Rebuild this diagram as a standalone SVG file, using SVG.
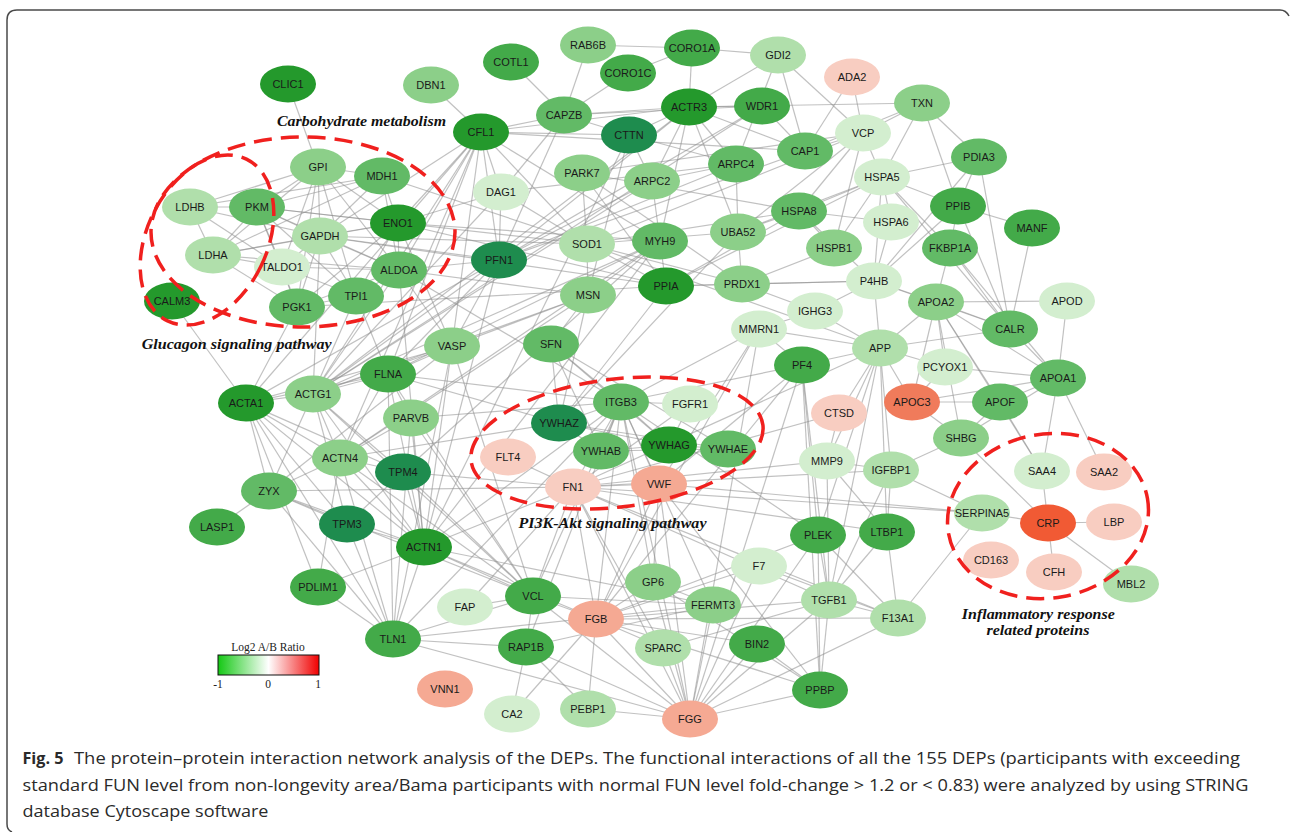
<svg xmlns="http://www.w3.org/2000/svg" width="1290" height="832" viewBox="0 0 1290 832">
<defs>
<linearGradient id="lg" x1="0" y1="0" x2="1" y2="0">
<stop offset="0" stop-color="#14c814"/><stop offset="0.5" stop-color="#ffffff"/><stop offset="1" stop-color="#f00000"/>
</linearGradient>
<style>
.e{stroke:#8e8e8e;stroke-opacity:0.55;stroke-width:1.2;fill:none}
.n ellipse{stroke:none}
.n text{font-family:"Liberation Sans",Arial,sans-serif;font-size:11px;fill:#1a1a1a;text-anchor:middle}
.g1{fill:#24992c}.gt{fill:#1e8c4e}.g2{fill:#43aa49}.g3{fill:#62ba66}.g4{fill:#8ccf89}.g5{fill:#b0dfab}.g6{fill:#d3eecf}
.p1{fill:#f8cdc1}.p2{fill:#f5a993}.p3{fill:#f07b5b}.p4{fill:#f15a34}
.dash{fill:none;stroke:#f0201e;stroke-width:3.5;stroke-dasharray:18 9}
.lab{font-family:"Liberation Serif","Times New Roman",serif;font-weight:bold;font-style:italic;font-size:15.5px;fill:#111;text-anchor:middle}
.cap{font-family:"Open Sans","Noto Sans",sans-serif;font-size:16px;fill:#2a2a2a}
.lg{font-family:"Liberation Serif","Times New Roman",serif;font-size:11.5px;text-anchor:middle;fill:#222}
</style>
</defs>
<rect width="1290" height="832" fill="#ffffff"/>
<path d="M1289,16 Q1286,10 1280,10 L17,10 Q7,10 7,20 L7,824 Q7,830 12,832" fill="none" stroke="#4a4a4a" stroke-width="1.5"/>
<g id="connectors">
<line class="e" x1="288" y1="84" x2="318" y2="167"/>
<line class="e" x1="431" y1="85" x2="481" y2="132"/>
<line class="e" x1="511" y1="62" x2="564" y2="115"/>
<line class="e" x1="588" y1="45" x2="564" y2="115"/>
<line class="e" x1="588" y1="45" x2="692" y2="48"/>
<line class="e" x1="692" y1="48" x2="628" y2="73"/>
<line class="e" x1="692" y1="48" x2="778" y2="55"/>
<line class="e" x1="692" y1="48" x2="689" y2="107"/>
<line class="e" x1="628" y1="73" x2="564" y2="115"/>
<line class="e" x1="778" y1="55" x2="689" y2="107"/>
<line class="e" x1="778" y1="55" x2="805" y2="151"/>
<line class="e" x1="778" y1="55" x2="863" y2="133"/>
<line class="e" x1="778" y1="55" x2="736" y2="164"/>
<line class="e" x1="852" y1="77" x2="863" y2="133"/>
<line class="e" x1="852" y1="77" x2="805" y2="151"/>
<line class="e" x1="922" y1="103" x2="863" y2="133"/>
<line class="e" x1="922" y1="103" x2="882" y2="177"/>
<line class="e" x1="922" y1="103" x2="979" y2="157"/>
<line class="e" x1="922" y1="103" x2="958" y2="206"/>
<line class="e" x1="922" y1="103" x2="689" y2="107"/>
<line class="e" x1="922" y1="103" x2="805" y2="151"/>
<line class="e" x1="564" y1="115" x2="689" y2="107"/>
<line class="e" x1="564" y1="115" x2="481" y2="132"/>
<line class="e" x1="564" y1="115" x2="629" y2="135"/>
<line class="e" x1="564" y1="115" x2="762" y2="106"/>
<line class="e" x1="564" y1="115" x2="499" y2="260"/>
<line class="e" x1="564" y1="115" x2="501" y2="192"/>
<line class="e" x1="481" y1="132" x2="629" y2="135"/>
<line class="e" x1="481" y1="132" x2="689" y2="107"/>
<line class="e" x1="481" y1="132" x2="501" y2="192"/>
<line class="e" x1="481" y1="132" x2="499" y2="260"/>
<line class="e" x1="481" y1="132" x2="320" y2="236"/>
<line class="e" x1="481" y1="132" x2="398" y2="223"/>
<line class="e" x1="481" y1="132" x2="399" y2="270"/>
<line class="e" x1="481" y1="132" x2="587" y2="244"/>
<line class="e" x1="481" y1="132" x2="660" y2="241"/>
<line class="e" x1="481" y1="132" x2="313" y2="394"/>
<line class="e" x1="481" y1="132" x2="388" y2="374"/>
<line class="e" x1="481" y1="132" x2="452" y2="346"/>
<line class="e" x1="481" y1="132" x2="340" y2="458"/>
<line class="e" x1="481" y1="132" x2="246" y2="403"/>
<line class="e" x1="481" y1="132" x2="805" y2="151"/>
<line class="e" x1="689" y1="107" x2="762" y2="106"/>
<line class="e" x1="689" y1="107" x2="736" y2="164"/>
<line class="e" x1="689" y1="107" x2="652" y2="181"/>
<line class="e" x1="689" y1="107" x2="629" y2="135"/>
<line class="e" x1="689" y1="107" x2="499" y2="260"/>
<line class="e" x1="689" y1="107" x2="660" y2="241"/>
<line class="e" x1="689" y1="107" x2="805" y2="151"/>
<line class="e" x1="689" y1="107" x2="313" y2="394"/>
<line class="e" x1="689" y1="107" x2="738" y2="232"/>
<line class="e" x1="629" y1="135" x2="652" y2="181"/>
<line class="e" x1="629" y1="135" x2="736" y2="164"/>
<line class="e" x1="629" y1="135" x2="588" y2="295"/>
<line class="e" x1="629" y1="135" x2="424" y2="547"/>
<line class="e" x1="762" y1="106" x2="805" y2="151"/>
<line class="e" x1="762" y1="106" x2="313" y2="394"/>
<line class="e" x1="762" y1="106" x2="499" y2="260"/>
<line class="e" x1="805" y1="151" x2="863" y2="133"/>
<line class="e" x1="805" y1="151" x2="499" y2="260"/>
<line class="e" x1="863" y1="133" x2="882" y2="177"/>
<line class="e" x1="863" y1="133" x2="799" y2="211"/>
<line class="e" x1="863" y1="133" x2="738" y2="232"/>
<line class="e" x1="863" y1="133" x2="587" y2="244"/>
<line class="e" x1="863" y1="133" x2="582" y2="173"/>
<line class="e" x1="863" y1="133" x2="834" y2="248"/>
<line class="e" x1="882" y1="177" x2="979" y2="157"/>
<line class="e" x1="882" y1="177" x2="958" y2="206"/>
<line class="e" x1="882" y1="177" x2="891" y2="222"/>
<line class="e" x1="882" y1="177" x2="874" y2="281"/>
<line class="e" x1="882" y1="177" x2="799" y2="211"/>
<line class="e" x1="882" y1="177" x2="950" y2="248"/>
<line class="e" x1="882" y1="177" x2="1010" y2="329"/>
<line class="e" x1="882" y1="177" x2="834" y2="248"/>
<line class="e" x1="882" y1="177" x2="738" y2="232"/>
<line class="e" x1="882" y1="177" x2="666" y2="286"/>
<line class="e" x1="979" y1="157" x2="958" y2="206"/>
<line class="e" x1="979" y1="157" x2="1010" y2="329"/>
<line class="e" x1="979" y1="157" x2="874" y2="281"/>
<line class="e" x1="958" y1="206" x2="1032" y2="228"/>
<line class="e" x1="958" y1="206" x2="950" y2="248"/>
<line class="e" x1="958" y1="206" x2="874" y2="281"/>
<line class="e" x1="958" y1="206" x2="1010" y2="329"/>
<line class="e" x1="1032" y1="228" x2="1010" y2="329"/>
<line class="e" x1="950" y1="248" x2="936" y2="302"/>
<line class="e" x1="950" y1="248" x2="1010" y2="329"/>
<line class="e" x1="950" y1="248" x2="1058" y2="378"/>
<line class="e" x1="891" y1="222" x2="874" y2="281"/>
<line class="e" x1="891" y1="222" x2="799" y2="211"/>
<line class="e" x1="874" y1="281" x2="936" y2="302"/>
<line class="e" x1="874" y1="281" x2="880" y2="348"/>
<line class="e" x1="874" y1="281" x2="815" y2="311"/>
<line class="e" x1="874" y1="281" x2="1010" y2="329"/>
<line class="e" x1="874" y1="281" x2="742" y2="284"/>
<line class="e" x1="936" y1="302" x2="1067" y2="301"/>
<line class="e" x1="936" y1="302" x2="1010" y2="329"/>
<line class="e" x1="936" y1="302" x2="880" y2="348"/>
<line class="e" x1="936" y1="302" x2="945" y2="367"/>
<line class="e" x1="936" y1="302" x2="1058" y2="378"/>
<line class="e" x1="936" y1="302" x2="912" y2="402"/>
<line class="e" x1="936" y1="302" x2="1000" y2="402"/>
<line class="e" x1="936" y1="302" x2="961" y2="438"/>
<line class="e" x1="936" y1="302" x2="1042" y2="471"/>
<line class="e" x1="1067" y1="301" x2="1058" y2="378"/>
<line class="e" x1="1010" y1="329" x2="1058" y2="378"/>
<line class="e" x1="1010" y1="329" x2="880" y2="348"/>
<line class="e" x1="1058" y1="378" x2="912" y2="402"/>
<line class="e" x1="1058" y1="378" x2="1000" y2="402"/>
<line class="e" x1="1058" y1="378" x2="1042" y2="471"/>
<line class="e" x1="1058" y1="378" x2="1104" y2="472"/>
<line class="e" x1="1058" y1="378" x2="945" y2="367"/>
<line class="e" x1="1058" y1="378" x2="961" y2="438"/>
<line class="e" x1="880" y1="348" x2="945" y2="367"/>
<line class="e" x1="880" y1="348" x2="815" y2="311"/>
<line class="e" x1="880" y1="348" x2="759" y2="329"/>
<line class="e" x1="880" y1="348" x2="802" y2="365"/>
<line class="e" x1="880" y1="348" x2="839" y2="413"/>
<line class="e" x1="880" y1="348" x2="827" y2="461"/>
<line class="e" x1="880" y1="348" x2="891" y2="470"/>
<line class="e" x1="880" y1="348" x2="887" y2="532"/>
<line class="e" x1="880" y1="348" x2="818" y2="535"/>
<line class="e" x1="880" y1="348" x2="912" y2="402"/>
<line class="e" x1="880" y1="348" x2="829" y2="600"/>
<line class="e" x1="880" y1="348" x2="573" y2="487"/>
<line class="e" x1="912" y1="402" x2="1000" y2="402"/>
<line class="e" x1="912" y1="402" x2="961" y2="438"/>
<line class="e" x1="912" y1="402" x2="945" y2="367"/>
<line class="e" x1="1000" y1="402" x2="961" y2="438"/>
<line class="e" x1="1000" y1="402" x2="1042" y2="471"/>
<line class="e" x1="961" y1="438" x2="891" y2="470"/>
<line class="e" x1="961" y1="438" x2="1048" y2="523"/>
<line class="e" x1="1042" y1="471" x2="1048" y2="523"/>
<line class="e" x1="1048" y1="523" x2="982" y2="513"/>
<line class="e" x1="1048" y1="523" x2="1114" y2="522"/>
<line class="e" x1="1048" y1="523" x2="1054" y2="572"/>
<line class="e" x1="1048" y1="523" x2="1131" y2="584"/>
<line class="e" x1="982" y1="513" x2="891" y2="470"/>
<line class="e" x1="982" y1="513" x2="898" y2="618"/>
<line class="e" x1="982" y1="513" x2="573" y2="487"/>
<line class="e" x1="982" y1="513" x2="659" y2="484"/>
<line class="e" x1="887" y1="532" x2="829" y2="600"/>
<line class="e" x1="887" y1="532" x2="891" y2="470"/>
<line class="e" x1="887" y1="532" x2="898" y2="618"/>
<line class="e" x1="887" y1="532" x2="573" y2="487"/>
<line class="e" x1="898" y1="618" x2="829" y2="600"/>
<line class="e" x1="898" y1="618" x2="690" y2="719"/>
<line class="e" x1="898" y1="618" x2="596" y2="619"/>
<line class="e" x1="829" y1="600" x2="820" y2="690"/>
<line class="e" x1="829" y1="600" x2="818" y2="535"/>
<line class="e" x1="829" y1="600" x2="827" y2="461"/>
<line class="e" x1="829" y1="600" x2="596" y2="619"/>
<line class="e" x1="829" y1="600" x2="690" y2="719"/>
<line class="e" x1="829" y1="600" x2="663" y2="648"/>
<line class="e" x1="829" y1="600" x2="573" y2="487"/>
<line class="e" x1="318" y1="167" x2="382" y2="176"/>
<line class="e" x1="318" y1="167" x2="257" y2="207"/>
<line class="e" x1="318" y1="167" x2="320" y2="236"/>
<line class="e" x1="318" y1="167" x2="398" y2="223"/>
<line class="e" x1="318" y1="167" x2="399" y2="270"/>
<line class="e" x1="318" y1="167" x2="356" y2="296"/>
<line class="e" x1="318" y1="167" x2="297" y2="307"/>
<line class="e" x1="318" y1="167" x2="282" y2="267"/>
<line class="e" x1="318" y1="167" x2="213" y2="255"/>
<line class="e" x1="318" y1="167" x2="190" y2="207"/>
<line class="e" x1="382" y1="176" x2="398" y2="223"/>
<line class="e" x1="382" y1="176" x2="320" y2="236"/>
<line class="e" x1="382" y1="176" x2="257" y2="207"/>
<line class="e" x1="382" y1="176" x2="213" y2="255"/>
<line class="e" x1="382" y1="176" x2="190" y2="207"/>
<line class="e" x1="382" y1="176" x2="399" y2="270"/>
<line class="e" x1="190" y1="207" x2="257" y2="207"/>
<line class="e" x1="190" y1="207" x2="213" y2="255"/>
<line class="e" x1="190" y1="207" x2="320" y2="236"/>
<line class="e" x1="190" y1="207" x2="282" y2="267"/>
<line class="e" x1="257" y1="207" x2="320" y2="236"/>
<line class="e" x1="257" y1="207" x2="398" y2="223"/>
<line class="e" x1="257" y1="207" x2="213" y2="255"/>
<line class="e" x1="257" y1="207" x2="282" y2="267"/>
<line class="e" x1="257" y1="207" x2="399" y2="270"/>
<line class="e" x1="257" y1="207" x2="356" y2="296"/>
<line class="e" x1="257" y1="207" x2="297" y2="307"/>
<line class="e" x1="320" y1="236" x2="398" y2="223"/>
<line class="e" x1="320" y1="236" x2="399" y2="270"/>
<line class="e" x1="320" y1="236" x2="356" y2="296"/>
<line class="e" x1="320" y1="236" x2="297" y2="307"/>
<line class="e" x1="320" y1="236" x2="282" y2="267"/>
<line class="e" x1="320" y1="236" x2="213" y2="255"/>
<line class="e" x1="398" y1="223" x2="399" y2="270"/>
<line class="e" x1="398" y1="223" x2="356" y2="296"/>
<line class="e" x1="398" y1="223" x2="297" y2="307"/>
<line class="e" x1="398" y1="223" x2="213" y2="255"/>
<line class="e" x1="213" y1="255" x2="282" y2="267"/>
<line class="e" x1="213" y1="255" x2="399" y2="270"/>
<line class="e" x1="213" y1="255" x2="297" y2="307"/>
<line class="e" x1="282" y1="267" x2="356" y2="296"/>
<line class="e" x1="282" y1="267" x2="297" y2="307"/>
<line class="e" x1="282" y1="267" x2="399" y2="270"/>
<line class="e" x1="399" y1="270" x2="356" y2="296"/>
<line class="e" x1="399" y1="270" x2="297" y2="307"/>
<line class="e" x1="356" y1="296" x2="297" y2="307"/>
<line class="e" x1="172" y1="301" x2="246" y2="403"/>
<line class="e" x1="320" y1="236" x2="587" y2="244"/>
<line class="e" x1="320" y1="236" x2="666" y2="286"/>
<line class="e" x1="398" y1="223" x2="666" y2="286"/>
<line class="e" x1="398" y1="223" x2="660" y2="241"/>
<line class="e" x1="399" y1="270" x2="424" y2="547"/>
<line class="e" x1="399" y1="270" x2="313" y2="394"/>
<line class="e" x1="320" y1="236" x2="313" y2="394"/>
<line class="e" x1="398" y1="223" x2="452" y2="346"/>
<line class="e" x1="257" y1="207" x2="587" y2="244"/>
<line class="e" x1="399" y1="270" x2="588" y2="295"/>
<line class="e" x1="398" y1="223" x2="501" y2="192"/>
<line class="e" x1="382" y1="176" x2="587" y2="244"/>
<line class="e" x1="320" y1="236" x2="499" y2="260"/>
<line class="e" x1="399" y1="270" x2="499" y2="260"/>
<line class="e" x1="297" y1="307" x2="246" y2="403"/>
<line class="e" x1="297" y1="307" x2="666" y2="286"/>
<line class="e" x1="356" y1="296" x2="388" y2="374"/>
<line class="e" x1="356" y1="296" x2="313" y2="394"/>
<line class="e" x1="399" y1="270" x2="452" y2="346"/>
<line class="e" x1="399" y1="270" x2="621" y2="402"/>
<line class="e" x1="501" y1="192" x2="499" y2="260"/>
<line class="e" x1="501" y1="192" x2="587" y2="244"/>
<line class="e" x1="501" y1="192" x2="313" y2="394"/>
<line class="e" x1="501" y1="192" x2="736" y2="164"/>
<line class="e" x1="582" y1="173" x2="587" y2="244"/>
<line class="e" x1="582" y1="173" x2="666" y2="286"/>
<line class="e" x1="582" y1="173" x2="742" y2="284"/>
<line class="e" x1="582" y1="173" x2="799" y2="211"/>
<line class="e" x1="652" y1="181" x2="736" y2="164"/>
<line class="e" x1="652" y1="181" x2="660" y2="241"/>
<line class="e" x1="652" y1="181" x2="499" y2="260"/>
<line class="e" x1="652" y1="181" x2="313" y2="394"/>
<line class="e" x1="736" y1="164" x2="499" y2="260"/>
<line class="e" x1="736" y1="164" x2="738" y2="232"/>
<line class="e" x1="799" y1="211" x2="834" y2="248"/>
<line class="e" x1="799" y1="211" x2="738" y2="232"/>
<line class="e" x1="799" y1="211" x2="666" y2="286"/>
<line class="e" x1="799" y1="211" x2="874" y2="281"/>
<line class="e" x1="799" y1="211" x2="587" y2="244"/>
<line class="e" x1="738" y1="232" x2="742" y2="284"/>
<line class="e" x1="738" y1="232" x2="587" y2="244"/>
<line class="e" x1="738" y1="232" x2="559" y2="423"/>
<line class="e" x1="587" y1="244" x2="742" y2="284"/>
<line class="e" x1="587" y1="244" x2="588" y2="295"/>
<line class="e" x1="587" y1="244" x2="666" y2="286"/>
<line class="e" x1="587" y1="244" x2="880" y2="348"/>
<line class="e" x1="660" y1="241" x2="340" y2="458"/>
<line class="e" x1="660" y1="241" x2="424" y2="547"/>
<line class="e" x1="660" y1="241" x2="388" y2="374"/>
<line class="e" x1="660" y1="241" x2="313" y2="394"/>
<line class="e" x1="660" y1="241" x2="588" y2="295"/>
<line class="e" x1="660" y1="241" x2="403" y2="472"/>
<line class="e" x1="660" y1="241" x2="666" y2="286"/>
<line class="e" x1="499" y1="260" x2="452" y2="346"/>
<line class="e" x1="499" y1="260" x2="313" y2="394"/>
<line class="e" x1="499" y1="260" x2="246" y2="403"/>
<line class="e" x1="499" y1="260" x2="388" y2="374"/>
<line class="e" x1="499" y1="260" x2="424" y2="547"/>
<line class="e" x1="666" y1="286" x2="742" y2="284"/>
<line class="e" x1="666" y1="286" x2="559" y2="423"/>
<line class="e" x1="666" y1="286" x2="874" y2="281"/>
<line class="e" x1="742" y1="284" x2="815" y2="311"/>
<line class="e" x1="742" y1="284" x2="834" y2="248"/>
<line class="e" x1="815" y1="311" x2="759" y2="329"/>
<line class="e" x1="759" y1="329" x2="802" y2="365"/>
<line class="e" x1="759" y1="329" x2="659" y2="484"/>
<line class="e" x1="759" y1="329" x2="596" y2="619"/>
<line class="e" x1="759" y1="329" x2="621" y2="402"/>
<line class="e" x1="759" y1="329" x2="690" y2="719"/>
<line class="e" x1="588" y1="295" x2="551" y2="344"/>
<line class="e" x1="588" y1="295" x2="452" y2="346"/>
<line class="e" x1="588" y1="295" x2="340" y2="458"/>
<line class="e" x1="588" y1="295" x2="559" y2="423"/>
<line class="e" x1="588" y1="295" x2="313" y2="394"/>
<line class="e" x1="452" y1="346" x2="388" y2="374"/>
<line class="e" x1="452" y1="346" x2="313" y2="394"/>
<line class="e" x1="452" y1="346" x2="424" y2="547"/>
<line class="e" x1="452" y1="346" x2="269" y2="491"/>
<line class="e" x1="452" y1="346" x2="246" y2="403"/>
<line class="e" x1="452" y1="346" x2="393" y2="639"/>
<line class="e" x1="452" y1="346" x2="533" y2="596"/>
<line class="e" x1="551" y1="344" x2="559" y2="423"/>
<line class="e" x1="551" y1="344" x2="601" y2="451"/>
<line class="e" x1="551" y1="344" x2="669" y2="445"/>
<line class="e" x1="551" y1="344" x2="728" y2="449"/>
<line class="e" x1="551" y1="344" x2="621" y2="402"/>
<line class="e" x1="388" y1="374" x2="313" y2="394"/>
<line class="e" x1="388" y1="374" x2="246" y2="403"/>
<line class="e" x1="388" y1="374" x2="340" y2="458"/>
<line class="e" x1="388" y1="374" x2="621" y2="402"/>
<line class="e" x1="388" y1="374" x2="411" y2="418"/>
<line class="e" x1="388" y1="374" x2="393" y2="639"/>
<line class="e" x1="388" y1="374" x2="559" y2="423"/>
<line class="e" x1="388" y1="374" x2="533" y2="596"/>
<line class="e" x1="388" y1="374" x2="424" y2="547"/>
<line class="e" x1="313" y1="394" x2="246" y2="403"/>
<line class="e" x1="313" y1="394" x2="340" y2="458"/>
<line class="e" x1="313" y1="394" x2="269" y2="491"/>
<line class="e" x1="313" y1="394" x2="347" y2="524"/>
<line class="e" x1="313" y1="394" x2="403" y2="472"/>
<line class="e" x1="313" y1="394" x2="424" y2="547"/>
<line class="e" x1="313" y1="394" x2="533" y2="596"/>
<line class="e" x1="246" y1="403" x2="269" y2="491"/>
<line class="e" x1="246" y1="403" x2="340" y2="458"/>
<line class="e" x1="246" y1="403" x2="347" y2="524"/>
<line class="e" x1="246" y1="403" x2="403" y2="472"/>
<line class="e" x1="246" y1="403" x2="424" y2="547"/>
<line class="e" x1="246" y1="403" x2="393" y2="639"/>
<line class="e" x1="246" y1="403" x2="318" y2="587"/>
<line class="e" x1="411" y1="418" x2="340" y2="458"/>
<line class="e" x1="411" y1="418" x2="621" y2="402"/>
<line class="e" x1="411" y1="418" x2="393" y2="639"/>
<line class="e" x1="411" y1="418" x2="533" y2="596"/>
<line class="e" x1="411" y1="418" x2="424" y2="547"/>
<line class="e" x1="340" y1="458" x2="403" y2="472"/>
<line class="e" x1="340" y1="458" x2="269" y2="491"/>
<line class="e" x1="340" y1="458" x2="424" y2="547"/>
<line class="e" x1="340" y1="458" x2="559" y2="423"/>
<line class="e" x1="340" y1="458" x2="533" y2="596"/>
<line class="e" x1="340" y1="458" x2="393" y2="639"/>
<line class="e" x1="340" y1="458" x2="318" y2="587"/>
<line class="e" x1="403" y1="472" x2="347" y2="524"/>
<line class="e" x1="403" y1="472" x2="424" y2="547"/>
<line class="e" x1="403" y1="472" x2="533" y2="596"/>
<line class="e" x1="403" y1="472" x2="573" y2="487"/>
<line class="e" x1="269" y1="491" x2="217" y2="527"/>
<line class="e" x1="269" y1="491" x2="347" y2="524"/>
<line class="e" x1="269" y1="491" x2="424" y2="547"/>
<line class="e" x1="269" y1="491" x2="533" y2="596"/>
<line class="e" x1="269" y1="491" x2="393" y2="639"/>
<line class="e" x1="269" y1="491" x2="573" y2="487"/>
<line class="e" x1="347" y1="524" x2="424" y2="547"/>
<line class="e" x1="347" y1="524" x2="393" y2="639"/>
<line class="e" x1="424" y1="547" x2="393" y2="639"/>
<line class="e" x1="424" y1="547" x2="533" y2="596"/>
<line class="e" x1="424" y1="547" x2="318" y2="587"/>
<line class="e" x1="424" y1="547" x2="621" y2="402"/>
<line class="e" x1="424" y1="547" x2="573" y2="487"/>
<line class="e" x1="424" y1="547" x2="596" y2="619"/>
<line class="e" x1="424" y1="547" x2="713" y2="605"/>
<line class="e" x1="393" y1="639" x2="533" y2="596"/>
<line class="e" x1="393" y1="639" x2="621" y2="402"/>
<line class="e" x1="393" y1="639" x2="713" y2="605"/>
<line class="e" x1="393" y1="639" x2="526" y2="647"/>
<line class="e" x1="393" y1="639" x2="318" y2="587"/>
<line class="e" x1="533" y1="596" x2="621" y2="402"/>
<line class="e" x1="533" y1="596" x2="526" y2="647"/>
<line class="e" x1="533" y1="596" x2="596" y2="619"/>
<line class="e" x1="533" y1="596" x2="713" y2="605"/>
<line class="e" x1="533" y1="596" x2="573" y2="487"/>
<line class="e" x1="621" y1="402" x2="690" y2="404"/>
<line class="e" x1="621" y1="402" x2="559" y2="423"/>
<line class="e" x1="621" y1="402" x2="601" y2="451"/>
<line class="e" x1="621" y1="402" x2="669" y2="445"/>
<line class="e" x1="621" y1="402" x2="573" y2="487"/>
<line class="e" x1="621" y1="402" x2="659" y2="484"/>
<line class="e" x1="621" y1="402" x2="596" y2="619"/>
<line class="e" x1="621" y1="402" x2="690" y2="719"/>
<line class="e" x1="621" y1="402" x2="653" y2="582"/>
<line class="e" x1="621" y1="402" x2="713" y2="605"/>
<line class="e" x1="621" y1="402" x2="526" y2="647"/>
<line class="e" x1="621" y1="402" x2="802" y2="365"/>
<line class="e" x1="621" y1="402" x2="818" y2="535"/>
<line class="e" x1="690" y1="404" x2="669" y2="445"/>
<line class="e" x1="690" y1="404" x2="573" y2="487"/>
<line class="e" x1="559" y1="423" x2="601" y2="451"/>
<line class="e" x1="559" y1="423" x2="669" y2="445"/>
<line class="e" x1="559" y1="423" x2="728" y2="449"/>
<line class="e" x1="601" y1="451" x2="669" y2="445"/>
<line class="e" x1="601" y1="451" x2="728" y2="449"/>
<line class="e" x1="669" y1="445" x2="728" y2="449"/>
<line class="e" x1="508" y1="457" x2="573" y2="487"/>
<line class="e" x1="573" y1="487" x2="659" y2="484"/>
<line class="e" x1="573" y1="487" x2="596" y2="619"/>
<line class="e" x1="573" y1="487" x2="690" y2="719"/>
<line class="e" x1="573" y1="487" x2="663" y2="648"/>
<line class="e" x1="573" y1="487" x2="898" y2="618"/>
<line class="e" x1="573" y1="487" x2="827" y2="461"/>
<line class="e" x1="573" y1="487" x2="891" y2="470"/>
<line class="e" x1="573" y1="487" x2="465" y2="607"/>
<line class="e" x1="659" y1="484" x2="596" y2="619"/>
<line class="e" x1="659" y1="484" x2="690" y2="719"/>
<line class="e" x1="659" y1="484" x2="653" y2="582"/>
<line class="e" x1="659" y1="484" x2="802" y2="365"/>
<line class="e" x1="659" y1="484" x2="820" y2="690"/>
<line class="e" x1="802" y1="365" x2="820" y2="690"/>
<line class="e" x1="802" y1="365" x2="690" y2="719"/>
<line class="e" x1="802" y1="365" x2="596" y2="619"/>
<line class="e" x1="802" y1="365" x2="818" y2="535"/>
<line class="e" x1="802" y1="365" x2="829" y2="600"/>
<line class="e" x1="839" y1="413" x2="827" y2="461"/>
<line class="e" x1="839" y1="413" x2="573" y2="487"/>
<line class="e" x1="827" y1="461" x2="891" y2="470"/>
<line class="e" x1="827" y1="461" x2="887" y2="532"/>
<line class="e" x1="891" y1="470" x2="829" y2="600"/>
<line class="e" x1="818" y1="535" x2="820" y2="690"/>
<line class="e" x1="818" y1="535" x2="690" y2="719"/>
<line class="e" x1="818" y1="535" x2="898" y2="618"/>
<line class="e" x1="818" y1="535" x2="596" y2="619"/>
<line class="e" x1="759" y1="566" x2="596" y2="619"/>
<line class="e" x1="759" y1="566" x2="690" y2="719"/>
<line class="e" x1="759" y1="566" x2="898" y2="618"/>
<line class="e" x1="653" y1="582" x2="596" y2="619"/>
<line class="e" x1="653" y1="582" x2="690" y2="719"/>
<line class="e" x1="653" y1="582" x2="713" y2="605"/>
<line class="e" x1="653" y1="582" x2="820" y2="690"/>
<line class="e" x1="713" y1="605" x2="690" y2="719"/>
<line class="e" x1="713" y1="605" x2="526" y2="647"/>
<line class="e" x1="596" y1="619" x2="690" y2="719"/>
<line class="e" x1="596" y1="619" x2="663" y2="648"/>
<line class="e" x1="596" y1="619" x2="588" y2="709"/>
<line class="e" x1="596" y1="619" x2="820" y2="690"/>
<line class="e" x1="663" y1="648" x2="690" y2="719"/>
<line class="e" x1="757" y1="644" x2="690" y2="719"/>
<line class="e" x1="757" y1="644" x2="820" y2="690"/>
<line class="e" x1="757" y1="644" x2="596" y2="619"/>
<line class="e" x1="820" y1="690" x2="690" y2="719"/>
<line class="e" x1="526" y1="647" x2="588" y2="709"/>
<line class="e" x1="526" y1="647" x2="690" y2="719"/>
<line class="e" x1="690" y1="719" x2="588" y2="709"/>
<line class="e" x1="690" y1="719" x2="393" y2="639"/>
<line class="e" x1="690" y1="719" x2="533" y2="596"/>
<line class="e" x1="512" y1="714" x2="526" y2="647"/>
<line class="e" x1="512" y1="714" x2="596" y2="619"/>
<line class="e" x1="465" y1="607" x2="533" y2="596"/>
</g>
<g id="nodes">
<g id="n-CLIC1" class="n"><ellipse cx="288" cy="84" rx="28" ry="18.5" class="g1"/><text x="288" y="88">CLIC1</text></g>
<g id="n-DBN1" class="n"><ellipse cx="431" cy="85" rx="28" ry="18.5" class="g4"/><text x="431" y="89">DBN1</text></g>
<g id="n-COTL1" class="n"><ellipse cx="511" cy="62" rx="28" ry="18.5" class="g2"/><text x="511" y="66">COTL1</text></g>
<g id="n-RAB6B" class="n"><ellipse cx="588" cy="45" rx="28" ry="18.5" class="g4"/><text x="588" y="49">RAB6B</text></g>
<g id="n-CORO1A" class="n"><ellipse cx="692" cy="48" rx="28" ry="18.5" class="g2"/><text x="692" y="52">CORO1A</text></g>
<g id="n-CORO1C" class="n"><ellipse cx="628" cy="73" rx="28" ry="18.5" class="g2"/><text x="628" y="77">CORO1C</text></g>
<g id="n-GDI2" class="n"><ellipse cx="778" cy="55" rx="28" ry="18.5" class="g5"/><text x="778" y="59">GDI2</text></g>
<g id="n-ADA2" class="n"><ellipse cx="852" cy="77" rx="28" ry="18.5" class="p1"/><text x="852" y="81">ADA2</text></g>
<g id="n-TXN" class="n"><ellipse cx="922" cy="103" rx="28" ry="18.5" class="g4"/><text x="922" y="107">TXN</text></g>
<g id="n-CAPZB" class="n"><ellipse cx="564" cy="115" rx="28" ry="18.5" class="g3"/><text x="564" y="119">CAPZB</text></g>
<g id="n-ACTR3" class="n"><ellipse cx="689" cy="107" rx="28" ry="18.5" class="g1"/><text x="689" y="111">ACTR3</text></g>
<g id="n-WDR1" class="n"><ellipse cx="762" cy="106" rx="28" ry="18.5" class="g2"/><text x="762" y="110">WDR1</text></g>
<g id="n-CFL1" class="n"><ellipse cx="481" cy="132" rx="28" ry="18.5" class="g1"/><text x="481" y="136">CFL1</text></g>
<g id="n-CTTN" class="n"><ellipse cx="629" cy="135" rx="28" ry="18.5" class="gt"/><text x="629" y="139">CTTN</text></g>
<g id="n-VCP" class="n"><ellipse cx="863" cy="133" rx="28" ry="18.5" class="g6"/><text x="863" y="137">VCP</text></g>
<g id="n-CAP1" class="n"><ellipse cx="805" cy="151" rx="28" ry="18.5" class="g3"/><text x="805" y="155">CAP1</text></g>
<g id="n-ARPC4" class="n"><ellipse cx="736" cy="164" rx="28" ry="18.5" class="g3"/><text x="736" y="168">ARPC4</text></g>
<g id="n-PARK7" class="n"><ellipse cx="582" cy="173" rx="28" ry="18.5" class="g4"/><text x="582" y="177">PARK7</text></g>
<g id="n-ARPC2" class="n"><ellipse cx="652" cy="181" rx="28" ry="18.5" class="g4"/><text x="652" y="185">ARPC2</text></g>
<g id="n-DAG1" class="n"><ellipse cx="501" cy="192" rx="28" ry="18.5" class="g6"/><text x="501" y="196">DAG1</text></g>
<g id="n-PDIA3" class="n"><ellipse cx="979" cy="157" rx="28" ry="18.5" class="g3"/><text x="979" y="161">PDIA3</text></g>
<g id="n-HSPA5" class="n"><ellipse cx="882" cy="177" rx="28" ry="18.5" class="g6"/><text x="882" y="181">HSPA5</text></g>
<g id="n-GPI" class="n"><ellipse cx="318" cy="167" rx="28" ry="18.5" class="g4"/><text x="318" y="171">GPI</text></g>
<g id="n-MDH1" class="n"><ellipse cx="382" cy="176" rx="28" ry="18.5" class="g3"/><text x="382" y="180">MDH1</text></g>
<g id="n-LDHB" class="n"><ellipse cx="190" cy="207" rx="28" ry="18.5" class="g5"/><text x="190" y="211">LDHB</text></g>
<g id="n-PKM" class="n"><ellipse cx="257" cy="207" rx="28" ry="18.5" class="g3"/><text x="257" y="211">PKM</text></g>
<g id="n-ENO1" class="n"><ellipse cx="398" cy="223" rx="28" ry="18.5" class="g1"/><text x="398" y="227">ENO1</text></g>
<g id="n-GAPDH" class="n"><ellipse cx="320" cy="236" rx="28" ry="18.5" class="g5"/><text x="320" y="240">GAPDH</text></g>
<g id="n-LDHA" class="n"><ellipse cx="213" cy="255" rx="28" ry="18.5" class="g5"/><text x="213" y="259">LDHA</text></g>
<g id="n-TALDO1" class="n"><ellipse cx="282" cy="267" rx="28" ry="18.5" class="g6"/><text x="282" y="271">TALDO1</text></g>
<g id="n-ALDOA" class="n"><ellipse cx="399" cy="270" rx="28" ry="18.5" class="g3"/><text x="399" y="274">ALDOA</text></g>
<g id="n-TPI1" class="n"><ellipse cx="356" cy="296" rx="28" ry="18.5" class="g3"/><text x="356" y="300">TPI1</text></g>
<g id="n-PGK1" class="n"><ellipse cx="297" cy="307" rx="28" ry="18.5" class="g3"/><text x="297" y="311">PGK1</text></g>
<g id="n-CALM3" class="n"><ellipse cx="172" cy="301" rx="28" ry="18.5" class="g1"/><text x="172" y="305">CALM3</text></g>
<g id="n-PPIB" class="n"><ellipse cx="958" cy="206" rx="28" ry="18.5" class="g2"/><text x="958" y="210">PPIB</text></g>
<g id="n-MANF" class="n"><ellipse cx="1032" cy="228" rx="28" ry="18.5" class="g2"/><text x="1032" y="232">MANF</text></g>
<g id="n-HSPA8" class="n"><ellipse cx="799" cy="211" rx="28" ry="18.5" class="g3"/><text x="799" y="215">HSPA8</text></g>
<g id="n-HSPA6" class="n"><ellipse cx="891" cy="222" rx="28" ry="18.5" class="g6"/><text x="891" y="226">HSPA6</text></g>
<g id="n-UBA52" class="n"><ellipse cx="738" cy="232" rx="28" ry="18.5" class="g4"/><text x="738" y="236">UBA52</text></g>
<g id="n-HSPB1" class="n"><ellipse cx="834" cy="248" rx="28" ry="18.5" class="g4"/><text x="834" y="252">HSPB1</text></g>
<g id="n-FKBP1A" class="n"><ellipse cx="950" cy="248" rx="28" ry="18.5" class="g3"/><text x="950" y="252">FKBP1A</text></g>
<g id="n-SOD1" class="n"><ellipse cx="587" cy="244" rx="28" ry="18.5" class="g5"/><text x="587" y="248">SOD1</text></g>
<g id="n-MYH9" class="n"><ellipse cx="660" cy="241" rx="28" ry="18.5" class="g3"/><text x="660" y="245">MYH9</text></g>
<g id="n-PFN1" class="n"><ellipse cx="499" cy="260" rx="28" ry="18.5" class="gt"/><text x="499" y="264">PFN1</text></g>
<g id="n-P4HB" class="n"><ellipse cx="874" cy="281" rx="28" ry="18.5" class="g6"/><text x="874" y="285">P4HB</text></g>
<g id="n-PPIA" class="n"><ellipse cx="666" cy="286" rx="28" ry="18.5" class="g1"/><text x="666" y="290">PPIA</text></g>
<g id="n-PRDX1" class="n"><ellipse cx="742" cy="284" rx="28" ry="18.5" class="g4"/><text x="742" y="288">PRDX1</text></g>
<g id="n-MSN" class="n"><ellipse cx="588" cy="295" rx="28" ry="18.5" class="g4"/><text x="588" y="299">MSN</text></g>
<g id="n-IGHG3" class="n"><ellipse cx="815" cy="311" rx="28" ry="18.5" class="g6"/><text x="815" y="315">IGHG3</text></g>
<g id="n-APOA2" class="n"><ellipse cx="936" cy="302" rx="28" ry="18.5" class="g4"/><text x="936" y="306">APOA2</text></g>
<g id="n-APOD" class="n"><ellipse cx="1067" cy="301" rx="28" ry="18.5" class="g6"/><text x="1067" y="305">APOD</text></g>
<g id="n-CALR" class="n"><ellipse cx="1010" cy="329" rx="28" ry="18.5" class="g3"/><text x="1010" y="333">CALR</text></g>
<g id="n-MMRN1" class="n"><ellipse cx="759" cy="329" rx="28" ry="18.5" class="g6"/><text x="759" y="333">MMRN1</text></g>
<g id="n-APP" class="n"><ellipse cx="880" cy="348" rx="28" ry="18.5" class="g5"/><text x="880" y="352">APP</text></g>
<g id="n-VASP" class="n"><ellipse cx="452" cy="346" rx="28" ry="18.5" class="g4"/><text x="452" y="350">VASP</text></g>
<g id="n-SFN" class="n"><ellipse cx="551" cy="344" rx="28" ry="18.5" class="g3"/><text x="551" y="348">SFN</text></g>
<g id="n-PCYOX1" class="n"><ellipse cx="945" cy="367" rx="28" ry="18.5" class="g6"/><text x="945" y="371">PCYOX1</text></g>
<g id="n-APOA1" class="n"><ellipse cx="1058" cy="378" rx="28" ry="18.5" class="g3"/><text x="1058" y="382">APOA1</text></g>
<g id="n-PF4" class="n"><ellipse cx="802" cy="365" rx="28" ry="18.5" class="g2"/><text x="802" y="369">PF4</text></g>
<g id="n-FLNA" class="n"><ellipse cx="388" cy="374" rx="28" ry="18.5" class="g2"/><text x="388" y="378">FLNA</text></g>
<g id="n-ACTG1" class="n"><ellipse cx="313" cy="394" rx="28" ry="18.5" class="g4"/><text x="313" y="398">ACTG1</text></g>
<g id="n-ACTA1" class="n"><ellipse cx="246" cy="403" rx="28" ry="18.5" class="g1"/><text x="246" y="407">ACTA1</text></g>
<g id="n-PARVB" class="n"><ellipse cx="411" cy="418" rx="28" ry="18.5" class="g4"/><text x="411" y="422">PARVB</text></g>
<g id="n-ITGB3" class="n"><ellipse cx="621" cy="402" rx="28" ry="18.5" class="g3"/><text x="621" y="406">ITGB3</text></g>
<g id="n-FGFR1" class="n"><ellipse cx="690" cy="404" rx="28" ry="18.5" class="g6"/><text x="690" y="408">FGFR1</text></g>
<g id="n-YWHAZ" class="n"><ellipse cx="559" cy="423" rx="28" ry="18.5" class="gt"/><text x="559" y="427">YWHAZ</text></g>
<g id="n-CTSD" class="n"><ellipse cx="839" cy="413" rx="28" ry="18.5" class="p1"/><text x="839" y="417">CTSD</text></g>
<g id="n-APOC3" class="n"><ellipse cx="912" cy="402" rx="28" ry="18.5" class="p3"/><text x="912" y="406">APOC3</text></g>
<g id="n-APOF" class="n"><ellipse cx="1000" cy="402" rx="28" ry="18.5" class="g3"/><text x="1000" y="406">APOF</text></g>
<g id="n-SHBG" class="n"><ellipse cx="961" cy="438" rx="28" ry="18.5" class="g4"/><text x="961" y="442">SHBG</text></g>
<g id="n-ACTN4" class="n"><ellipse cx="340" cy="458" rx="28" ry="18.5" class="g4"/><text x="340" y="462">ACTN4</text></g>
<g id="n-TPM4" class="n"><ellipse cx="403" cy="472" rx="28" ry="18.5" class="gt"/><text x="403" y="476">TPM4</text></g>
<g id="n-FLT4" class="n"><ellipse cx="508" cy="457" rx="28" ry="18.5" class="p1"/><text x="508" y="461">FLT4</text></g>
<g id="n-YWHAB" class="n"><ellipse cx="601" cy="451" rx="28" ry="18.5" class="g3"/><text x="601" y="455">YWHAB</text></g>
<g id="n-YWHAG" class="n"><ellipse cx="669" cy="445" rx="28" ry="18.5" class="g1"/><text x="669" y="449">YWHAG</text></g>
<g id="n-YWHAE" class="n"><ellipse cx="728" cy="449" rx="28" ry="18.5" class="g3"/><text x="728" y="453">YWHAE</text></g>
<g id="n-MMP9" class="n"><ellipse cx="827" cy="461" rx="28" ry="18.5" class="g6"/><text x="827" y="465">MMP9</text></g>
<g id="n-IGFBP1" class="n"><ellipse cx="891" cy="470" rx="28" ry="18.5" class="g5"/><text x="891" y="474">IGFBP1</text></g>
<g id="n-SAA4" class="n"><ellipse cx="1042" cy="471" rx="28" ry="18.5" class="g6"/><text x="1042" y="475">SAA4</text></g>
<g id="n-SAA2" class="n"><ellipse cx="1104" cy="472" rx="28" ry="18.5" class="p1"/><text x="1104" y="476">SAA2</text></g>
<g id="n-ZYX" class="n"><ellipse cx="269" cy="491" rx="28" ry="18.5" class="g3"/><text x="269" y="495">ZYX</text></g>
<g id="n-FN1" class="n"><ellipse cx="573" cy="487" rx="28" ry="18.5" class="p1"/><text x="573" y="491">FN1</text></g>
<g id="n-VWF" class="n"><ellipse cx="659" cy="484" rx="28" ry="18.5" class="p2"/><text x="659" y="488">VWF</text></g>
<g id="n-LASP1" class="n"><ellipse cx="217" cy="527" rx="28" ry="18.5" class="g2"/><text x="217" y="531">LASP1</text></g>
<g id="n-TPM3" class="n"><ellipse cx="347" cy="524" rx="28" ry="18.5" class="gt"/><text x="347" y="528">TPM3</text></g>
<g id="n-ACTN1" class="n"><ellipse cx="424" cy="547" rx="28" ry="18.5" class="g1"/><text x="424" y="551">ACTN1</text></g>
<g id="n-PLEK" class="n"><ellipse cx="818" cy="535" rx="28" ry="18.5" class="g2"/><text x="818" y="539">PLEK</text></g>
<g id="n-LTBP1" class="n"><ellipse cx="887" cy="532" rx="28" ry="18.5" class="g2"/><text x="887" y="536">LTBP1</text></g>
<g id="n-SERPINA5" class="n"><ellipse cx="982" cy="513" rx="28" ry="18.5" class="g5"/><text x="982" y="517">SERPINA5</text></g>
<g id="n-CRP" class="n"><ellipse cx="1048" cy="523" rx="28" ry="18.5" class="p4"/><text x="1048" y="527">CRP</text></g>
<g id="n-LBP" class="n"><ellipse cx="1114" cy="522" rx="28" ry="18.5" class="p1"/><text x="1114" y="526">LBP</text></g>
<g id="n-CD163" class="n"><ellipse cx="991" cy="560" rx="28" ry="18.5" class="p1"/><text x="991" y="564">CD163</text></g>
<g id="n-CFH" class="n"><ellipse cx="1054" cy="572" rx="28" ry="18.5" class="p1"/><text x="1054" y="576">CFH</text></g>
<g id="n-MBL2" class="n"><ellipse cx="1131" cy="584" rx="28" ry="18.5" class="g5"/><text x="1131" y="588">MBL2</text></g>
<g id="n-PDLIM1" class="n"><ellipse cx="318" cy="587" rx="28" ry="18.5" class="g2"/><text x="318" y="591">PDLIM1</text></g>
<g id="n-F7" class="n"><ellipse cx="759" cy="566" rx="28" ry="18.5" class="g6"/><text x="759" y="570">F7</text></g>
<g id="n-GP6" class="n"><ellipse cx="653" cy="582" rx="28" ry="18.5" class="g4"/><text x="653" y="586">GP6</text></g>
<g id="n-VCL" class="n"><ellipse cx="533" cy="596" rx="28" ry="18.5" class="g2"/><text x="533" y="600">VCL</text></g>
<g id="n-FAP" class="n"><ellipse cx="465" cy="607" rx="28" ry="18.5" class="g6"/><text x="465" y="611">FAP</text></g>
<g id="n-FERMT3" class="n"><ellipse cx="713" cy="605" rx="28" ry="18.5" class="g4"/><text x="713" y="609">FERMT3</text></g>
<g id="n-TGFB1" class="n"><ellipse cx="829" cy="600" rx="28" ry="18.5" class="g5"/><text x="829" y="604">TGFB1</text></g>
<g id="n-F13A1" class="n"><ellipse cx="898" cy="618" rx="28" ry="18.5" class="g5"/><text x="898" y="622">F13A1</text></g>
<g id="n-FGB" class="n"><ellipse cx="596" cy="619" rx="28" ry="18.5" class="p2"/><text x="596" y="623">FGB</text></g>
<g id="n-SPARC" class="n"><ellipse cx="663" cy="648" rx="28" ry="18.5" class="g5"/><text x="663" y="652">SPARC</text></g>
<g id="n-BIN2" class="n"><ellipse cx="757" cy="644" rx="28" ry="18.5" class="g2"/><text x="757" y="648">BIN2</text></g>
<g id="n-TLN1" class="n"><ellipse cx="393" cy="639" rx="28" ry="18.5" class="g2"/><text x="393" y="643">TLN1</text></g>
<g id="n-RAP1B" class="n"><ellipse cx="526" cy="647" rx="28" ry="18.5" class="g2"/><text x="526" y="651">RAP1B</text></g>
<g id="n-PPBP" class="n"><ellipse cx="820" cy="690" rx="28" ry="18.5" class="g2"/><text x="820" y="694">PPBP</text></g>
<g id="n-VNN1" class="n"><ellipse cx="445" cy="689" rx="28" ry="18.5" class="p2"/><text x="445" y="693">VNN1</text></g>
<g id="n-CA2" class="n"><ellipse cx="512" cy="714" rx="28" ry="18.5" class="g6"/><text x="512" y="718">CA2</text></g>
<g id="n-PEBP1" class="n"><ellipse cx="588" cy="709" rx="28" ry="18.5" class="g5"/><text x="588" y="713">PEBP1</text></g>
<g id="n-FGG" class="n"><ellipse cx="690" cy="719" rx="28" ry="18.5" class="p2"/><text x="690" y="723">FGG</text></g>
</g>
<g id="clusters">
<ellipse class="dash" cx="303" cy="232" rx="152" ry="95"/>
<ellipse class="dash" cx="207" cy="240" rx="60" ry="90" transform="rotate(26 207 240)"/>
<ellipse class="dash" cx="617" cy="443" rx="147" ry="64" transform="rotate(-7 617 443)"/>
<ellipse class="dash" cx="1048" cy="516" rx="101" ry="82" transform="rotate(-10 1048 516)"/>
<text class="lab" x="361.5" y="126" textLength="169" lengthAdjust="spacingAndGlyphs">Carbohydrate metabolism</text>
<text class="lab" x="236.7" y="349" textLength="190" lengthAdjust="spacingAndGlyphs">Glucagon signaling pathway</text>
<text class="lab" x="612.5" y="528" textLength="188" lengthAdjust="spacingAndGlyphs">PI3K-Akt signaling pathway</text>
<text class="lab" x="1038.3" y="619" textLength="153" lengthAdjust="spacingAndGlyphs">Inflammatory response</text>
<text class="lab" x="1038" y="635" textLength="103" lengthAdjust="spacingAndGlyphs">related proteins</text>
</g>
<g id="legend">
<text class="lg" x="268" y="651">Log2 A/B Ratio</text>
<rect x="218" y="655" width="101" height="20" fill="url(#lg)" stroke="#111" stroke-width="1"/>
<text class="lg" x="218" y="688">-1</text>
<text class="lg" x="268" y="688">0</text>
<text class="lg" x="318" y="688">1</text>
</g>
<g id="caption">
<text class="cap" x="22.5" y="764" font-weight="bold" fill="#111" textLength="41" lengthAdjust="spacingAndGlyphs">Fig. 5</text>
<text class="cap" x="74" y="764" textLength="1166" lengthAdjust="spacingAndGlyphs">The protein–protein interaction network analysis of the DEPs. The functional interactions of all the 155 DEPs (participants with exceeding</text>
<text class="cap" x="22.5" y="790.5" textLength="1226" lengthAdjust="spacingAndGlyphs">standard FUN level from non-longevity area/Bama participants with normal FUN level fold-change &gt; 1.2 or &lt; 0.83) were analyzed by using STRING</text>
<text class="cap" x="22.5" y="817" textLength="246" lengthAdjust="spacingAndGlyphs">database Cytoscape software</text>
</g>
</svg>
